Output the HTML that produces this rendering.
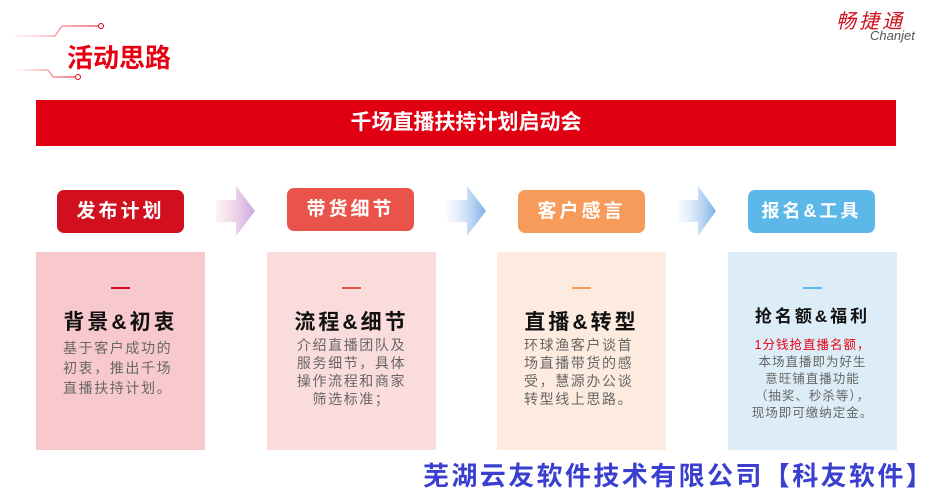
<!DOCTYPE html>
<html><head><meta charset="utf-8"><style>
*{margin:0;padding:0;box-sizing:border-box}
body{width:941px;height:492px;background:#fff;position:relative;overflow:hidden;font-family:"Liberation Sans","Noto Sans CJK SC",sans-serif}
.abs{position:absolute}
.btn{position:absolute;width:127px;height:43px;border-radius:7px;color:#fff;font-weight:bold;font-size:19px;letter-spacing:3px;text-align:center;line-height:43px}
.card{position:absolute;top:252px;width:169px;height:198px;text-align:center}
.dash{position:absolute;top:35px;left:75px;width:19px;height:2px}
.hd{position:absolute;top:54px;left:0;width:100%;font-size:21px;font-weight:bold;letter-spacing:3px;color:#111}
.bd{position:absolute;left:0;width:100%;font-size:14px;line-height:19px;color:#666;letter-spacing:1.6px;white-space:nowrap}
</style></head><body>
<svg class="abs" style="left:0;top:0" width="941" height="492">
<defs><linearGradient id="lg" x1="0" x2="1"><stop offset="0" stop-color="#e60012" stop-opacity="0"/><stop offset="1" stop-color="#e60012"/></linearGradient>
<linearGradient id="a1" x1="0" x2="1"><stop offset="0" stop-color="#f3c6c6" stop-opacity="0.2"/><stop offset="1" stop-color="#c9a6e8"/></linearGradient>
<linearGradient id="a2" x1="0" x2="1"><stop offset="0" stop-color="#dbe6f8" stop-opacity="0.2"/><stop offset="1" stop-color="#79aee6"/></linearGradient>
</defs>
<polyline points="10,36 55,36 62,26 100,26" fill="none" stroke="url(#lg)" stroke-width="1"/>
<circle cx="101" cy="26" r="2.5" fill="#fff" stroke="#e60012"/>
<line x1="5" y1="48" x2="40" y2="48" stroke="url(#lg)" stroke-width="2"/>
<line x1="5" y1="60" x2="56" y2="60" stroke="url(#lg)" stroke-width="2"/>
<polyline points="15,70 48,70 53,77 77,77" fill="none" stroke="url(#lg)" stroke-width="1"/>
<circle cx="78" cy="77" r="2.5" fill="#fff" stroke="#e60012"/>
<polygon points="216,200 236,200 236,186 255,211 236,236 236,222 216,222" fill="url(#a1)"/>
<polygon points="447,200 467,200 467,186 486,211 467,236 467,222 447,222" fill="url(#a2)"/>
<polygon points="678,200 698,200 698,186 716,211 698,236 698,222 678,222" fill="url(#a2)"/>
</svg>
<div class="abs" style="left:67px;top:38px;font-size:26px;font-weight:bold;color:#e60012;letter-spacing:0">活动思路</div>
<div class="abs" style="left:836px;top:5px;font-size:20px;font-style:italic;color:#d0121b;letter-spacing:3px">畅捷通</div>
<div class="abs" style="left:870px;top:28px;font-size:13px;font-style:italic;color:#555">Chanjet</div>
<div class="abs" style="left:36px;top:100px;width:860px;height:46px;background:#e10012;color:#fff;font-size:21px;font-weight:bold;text-align:center;line-height:46px">千场直播扶持计划启动会</div>
<div class="btn" style="left:57px;top:190px;background:#d10f1f">发布计划</div>
<div class="btn" style="left:287px;top:188px;background:#e9534a">带货细节</div>
<div class="btn" style="left:518px;top:190px;background:#f79b5b">客户感言</div>
<div class="btn" style="left:748px;top:190px;background:#5bb8e8;font-size:18px">报名&amp;工具</div>
<div class="card" style="left:36px;background:#f8c9cc"><div class="dash" style="background:#d10f1f"></div><div class="hd">背景&amp;初衷</div><div class="bd" style="top:86px;text-align:left;padding-left:27px;line-height:20px">基于客户成功的<br>初衷，推出千场<br>直播扶持计划。</div></div>
<div class="card" style="left:267px;background:#fbdcdc"><div class="dash" style="background:#e9534a"></div><div class="hd">流程&amp;细节</div><div class="bd" style="top:84px;line-height:18px">介绍直播团队及<br>服务细节，具体<br>操作流程和商家<br>筛选标准；</div></div>
<div class="card" style="left:497px;background:#fdebdf"><div class="dash" style="background:#f79b5b"></div><div class="hd">直播&amp;转型</div><div class="bd" style="top:84px;text-align:left;padding-left:27px;line-height:18px">环球渔客户谈首<br>场直播带货的感<br>受，慧源办公谈<br>转型线上思路。</div></div>
<div class="card" style="left:728px;background:#dcedf8"><div class="dash" style="background:#5bb8e8"></div><div class="hd" style="top:50px;font-size:17px">抢名额&amp;福利</div><div class="bd" style="top:85px;font-size:12.5px;line-height:17px;letter-spacing:1px">
<span style="color:#e60012">1分钱抢直播名额，</span><br>本场直播即为好生<br>意旺铺直播功能<br>（抽奖、秒杀等），<br>现场即可缴纳定金。</div></div>
<div class="abs" style="left:423px;top:456px;font-size:26px;font-weight:bold;color:#3b3fcf;letter-spacing:2.4px;white-space:nowrap">芜湖云友软件技术有限公司【科友软件】</div>
</body></html>
